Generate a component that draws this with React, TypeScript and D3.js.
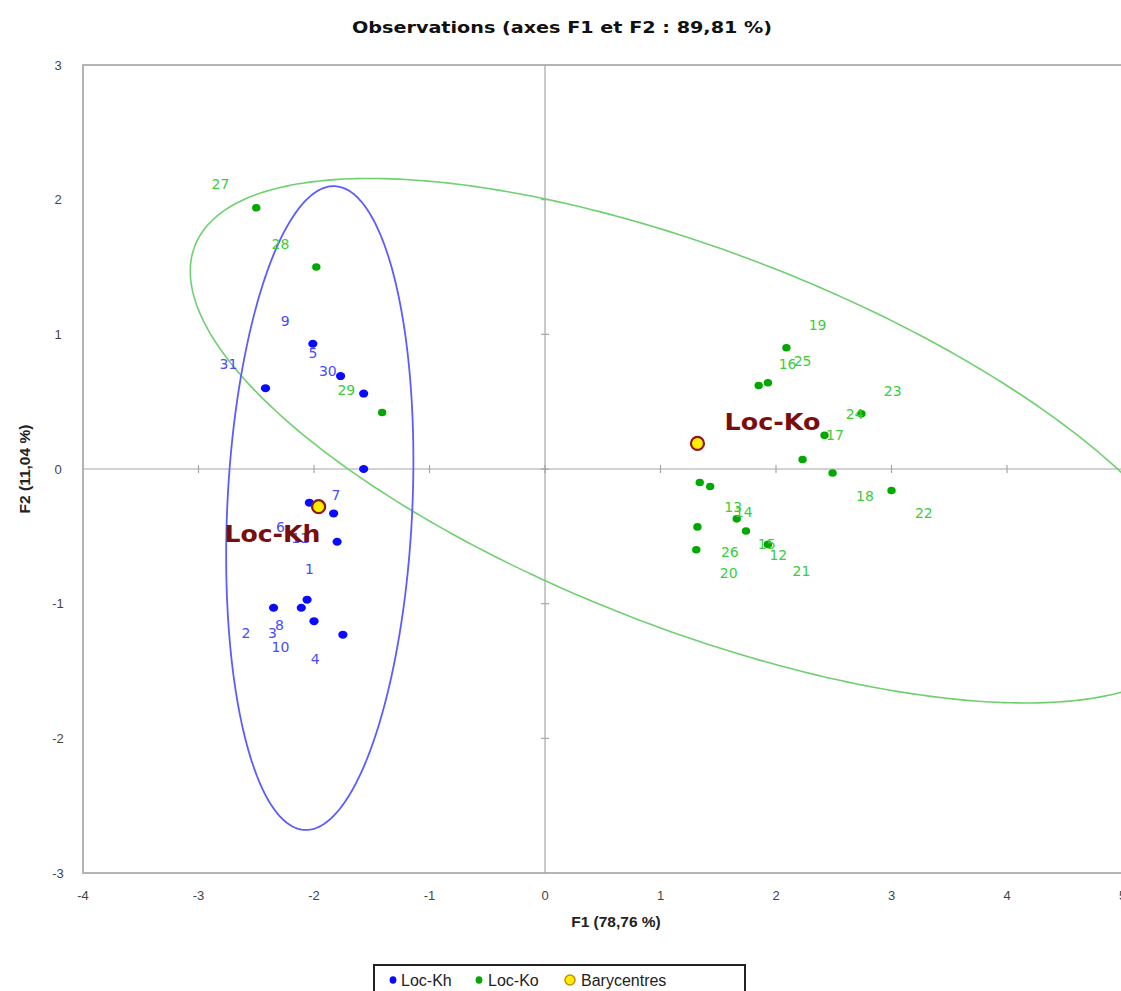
import React from "react";
import * as d3 from "d3";

// observations, axes F1 / F2
const khX = [-2.01, -1.77, -1.57, -2.42, -1.57, -2.04, -1.83, -1.8, -2.06, -2.11, -2.35, -2.0, -1.75];
const khY = [0.93, 0.69, 0.56, 0.6, 0.0, -0.25, -0.33, -0.54, -0.97, -1.03, -1.03, -1.13, -1.23];

const koX = [2.09, 1.85, 1.93, 2.74, 2.42, 2.23, 2.49, 1.34, 1.43, 3.0, 1.66, 1.32, 1.74, 1.31, 1.93, -2.5, -1.98, -1.41];
const koY = [0.9, 0.62, 0.64, 0.41, 0.25, 0.07, -0.03, -0.1, -0.13, -0.16, -0.37, -0.43, -0.46, -0.6, -0.56, 1.94, 1.5, 0.42];

// point labels (positions as placed in the chart)
const khLabels = ["9", "5", "30", "31", "7", "6", "11", "1", "8", "3", "2", "10", "4"];
const khLabelX = [-2.25, -2.01, -1.88, -2.74, -1.81, -2.29, -2.12, -2.04, -2.3, -2.36, -2.59, -2.29, -1.99];
const khLabelY = [1.1, 0.86, 0.73, 0.78, -0.19, -0.43, -0.51, -0.74, -1.16, -1.22, -1.22, -1.32, -1.41];

const koLabels = ["27", "28", "29", "19", "16", "25", "23", "24", "17", "18", "22", "13", "14", "15", "12", "26", "20", "21"];
const koLabelX = [-2.81, -2.29, -1.72, 2.36, 2.1, 2.23, 3.01, 2.68, 2.51, 2.77, 3.28, 1.63, 1.72, 1.92, 2.02, 1.6, 1.59, 2.22];
const koLabelY = [2.12, 1.67, 0.59, 1.07, 0.78, 0.8, 0.58, 0.41, 0.25, -0.2, -0.33, -0.28, -0.32, -0.56, -0.64, -0.62, -0.77, -0.76];

// barycentres
const baryNames = ["Loc-Kh", "Loc-Ko"];
const baryX = [-1.96, 1.32];
const baryY = [-0.28, 0.19];
const baryLabelX = [-2.36, 1.97];
const baryLabelY = [-0.48, 0.35];

// confidence ellipses: centre + half-axis vectors (data units)
const khEllipse = { cx: -1.95, cy: -0.29, ux: 0.13, uy: 2.39, vx: 0.8, vy: -0.03 };
const koEllipse = { cx: 1.32, cy: 0.21, ux: 4.35, uy: -1.45, vx: -0.6, vy: -1.3 };

const xTicks = [-4, -3, -2, -1, 0, 1, 2, 3, 4, 5];
const yTicks = [-3, -2, -1, 0, 1, 2, 3];

const W = 1121;
const H = 991;
const narrow = "'Liberation Sans Narrow', 'Liberation Sans', Arial, sans-serif";
const verd = "'DejaVu Sans', Verdana, sans-serif";

export default function App() {
  const x = d3.scaleLinear().domain([-4, 5]).range([83, 1122.5]);
  const y = d3.scaleLinear().domain([-3, 3]).range([873, 65]);

  const ellipsePath = (e: typeof khEllipse) => {
    const line = d3
      .line<number>()
      .x((t) => x(e.cx + Math.cos(t) * e.ux + Math.sin(t) * e.vx))
      .y((t) => y(e.cy + Math.cos(t) * e.uy + Math.sin(t) * e.vy))
      .curve(d3.curveLinearClosed);
    return line(d3.range(0, Math.PI * 2, Math.PI / 180)) || "";
  };

  const blue = "#0a0aff";
  const green = "#00a800";
  const blueText = "#4a4aff";
  const greenText = "#3ccc3c";
  const gridC = "#a6a6a6";

  return (
    <svg
      width={W}
      height={H}
      style={{ position: "absolute", left: 0, top: 0, display: "block", background: "#fff" }}
    >
      <text x={562} y={27} textAnchor="middle" dominantBaseline="central"
        fontFamily={verd} fontWeight="bold" fontSize={16} fill="#111"
        textLength={420} lengthAdjust="spacingAndGlyphs">
        Observations (axes F1 et F2 : 89,81 %)
      </text>

      {/* plot frame */}
      <rect x={x(-4)} y={y(3)} width={x(5) - x(-4)} height={y(-3) - y(3)}
        fill="none" stroke="#b4b4b4" strokeWidth={2} />

      {/* centre axes */}
      <line x1={x(-4)} x2={x(5)} y1={y(0)} y2={y(0)} stroke={gridC} strokeWidth={1.2} />
      <line x1={x(0)} x2={x(0)} y1={y(3)} y2={y(-3)} stroke={gridC} strokeWidth={1.2} />
      {xTicks.filter((t) => t > -4 && t < 5).map((t) => (
        <line key={"xt" + t} x1={x(t)} x2={x(t)} y1={y(0) - 4} y2={y(0) + 4} stroke={gridC} strokeWidth={1.2} />
      ))}
      {yTicks.filter((t) => t > -3 && t < 3).map((t) => (
        <line key={"yt" + t} x1={x(0) - 4} x2={x(0) + 4} y1={y(t)} y2={y(t)} stroke={gridC} strokeWidth={1.2} />
      ))}

      {/* tick labels */}
      {xTicks.map((t) => (
        <text key={"xl" + t} x={x(t)} y={895} textAnchor="middle" dominantBaseline="central"
          fontFamily={narrow} fontSize={13} fill="#444">{t}</text>
      ))}
      {yTicks.map((t) => (
        <text key={"yl" + t} x={58} y={y(t)} textAnchor="middle" dominantBaseline="central"
          fontFamily={narrow} fontSize={13} fill="#444">{t}</text>
      ))}

      <text x={616} y={921} textAnchor="middle" dominantBaseline="central"
        fontFamily={narrow} fontWeight="bold" fontSize={15.5} fill="#222">F1 (78,76 %)</text>
      <text transform={`translate(24,${y(0)}) rotate(-90)`} textAnchor="middle" dominantBaseline="central"
        fontFamily={narrow} fontWeight="bold" fontSize={15.5} fill="#222">F2 (11,04 %)</text>

      {/* ellipses */}
      <path d={ellipsePath(koEllipse)} fill="none" stroke="#6fd06f" strokeWidth={1.6} />
      <path d={ellipsePath(khEllipse)} fill="none" stroke="#5c5cff" strokeWidth={1.8} />

      {/* points */}
      {khX.map((v, i) => (
        <ellipse key={"kh" + i} cx={x(v)} cy={y(khY[i])} rx={4.6} ry={4} fill={blue} />
      ))}
      {koX.map((v, i) => (
        <ellipse key={"ko" + i} cx={x(v)} cy={y(koY[i])} rx={4.2} ry={3.8} fill={green} />
      ))}

      {khLabels.map((s, i) => (
        <text key={"khl" + i} x={x(khLabelX[i])} y={y(khLabelY[i])} textAnchor="middle" dominantBaseline="central"
          fontFamily={verd} fontSize={14} fill={blueText}>{s}</text>
      ))}
      {koLabels.map((s, i) => (
        <text key={"kol" + i} x={x(koLabelX[i])} y={y(koLabelY[i])} textAnchor="middle" dominantBaseline="central"
          fontFamily={verd} fontSize={14} fill={greenText}>{s}</text>
      ))}

      {/* barycentres */}
      {baryX.map((v, i) => (
        <circle key={"b" + i} cx={x(v)} cy={y(baryY[i])} r={6.5} fill="#ffee00" stroke="#8b1a1a" strokeWidth={2.2} />
      ))}
      {baryNames.map((s, i) => (
        <text key={"bn" + i} x={x(baryLabelX[i])} y={y(baryLabelY[i])} textAnchor="middle" dominantBaseline="central"
          fontFamily={verd} fontWeight="bold" fontSize={23} fill="#7a0d0d"
          textLength={96} lengthAdjust="spacingAndGlyphs">{s}</text>
      ))}

      {/* legend */}
      <rect x={374} y={965} width={371} height={40} fill="#fff" stroke="#222" strokeWidth={2} />
      <ellipse cx={393} cy={980} rx={3.4} ry={3.8} fill={blue} />
      <text x={401} y={980} dominantBaseline="central" fontFamily={narrow} fontSize={16} fill="#222">Loc-Kh</text>
      <ellipse cx={479} cy={980} rx={3.4} ry={3.8} fill={green} />
      <text x={488} y={980} dominantBaseline="central" fontFamily={narrow} fontSize={16} fill="#222">Loc-Ko</text>
      <circle cx={570} cy={980} r={5} fill="#ffee00" stroke="#d08a00" strokeWidth={1.5} />
      <text x={581} y={980} dominantBaseline="central" fontFamily={narrow} fontSize={16} fill="#222">Barycentres</text>
    </svg>
  );
}
